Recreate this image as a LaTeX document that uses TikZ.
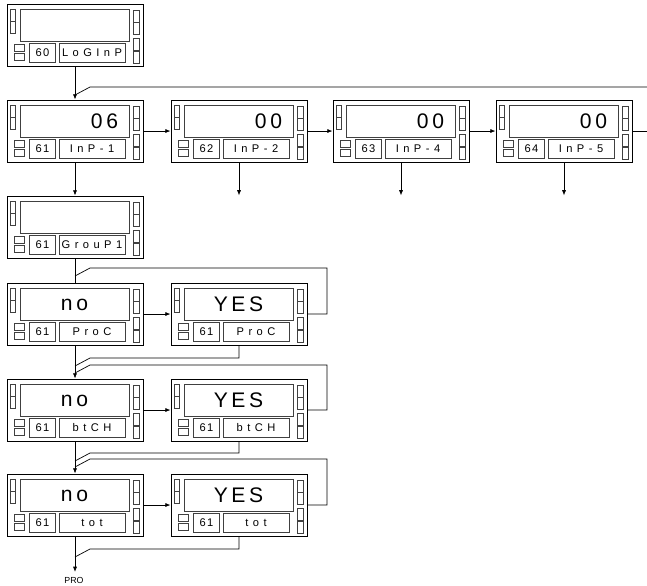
\documentclass[tikz,border=0pt]{standalone}
\usepackage{fontspec}
\setmainfont{Liberation Sans}
\newfontfamily\dispfont[LetterSpace=17]{Liberation Sans}
\newfontfamily\tagfont[LetterSpace=40]{Liberation Sans}
\newfontfamily\numfont[LetterSpace=12]{Liberation Sans}
\usetikzlibrary{arrows.meta,positioning}

\tikzset{
  frame/.style={draw=black, line width=0.8pt, minimum width=40.8mm, minimum height=18.6mm, inner sep=0pt},
  window/.style={draw=black!75, line width=0.8pt},
  led/.style={draw=black!75, line width=0.5pt},
  numbox/.style={draw=black!75, line width=0.7pt, minimum width=7.8mm, minimum height=5.7mm, inner sep=0pt, font=\numfont\fontsize{9.5}{10}\selectfont},
  tagbox/.style={draw=black!75, line width=0.7pt, minimum width=19.8mm, minimum height=5.7mm, inner sep=0pt, font=\tagfont\fontsize{9.5}{10}\selectfont},
  disptext/.style={text width=26.1mm, inner sep=0pt, font=\dispfont\fontsize{18}{20}\selectfont},
  prolabel/.style={inner xsep=0pt, inner ysep=4pt, font=\fontsize{7.5}{9}\selectfont},
  wire/.style={draw=black, line width=0.6pt},
  flow/.style={-{Latex[length=4.5pt,width=3.5pt]}},
  pics/panel/.style n args={4}{code={
    \node[frame] (-box) at (68,31) {};
    \draw[window] (13,5) rectangle (122,37);
    \node[disptext, align=#4] (-disp) at (67.5,21.5) {#3};
    \node[numbox] (-num) at (35.5,48.5) {#1};
    \node[tagbox] (-tag) at (85,48.5) {#2};
    % pilotos
    \foreach \y in {5,17} \draw[led] (3,\y) rectangle (8,\y+12);
    \foreach \y in {40,49} \draw[led] (7,\y) rectangle (17,\y+7);
    \foreach \y in {6,18,34,47} \draw[led] (126,\y) rectangle (132,\y+12);
  }}
}

\begin{document}
\begin{tikzpicture}[x=0.3mm,y=-0.3mm]
  \useasboundingbox (0,0) rectangle (647,585);

  % Login y entradas
  \pic (d60) at (7,4) {panel={60}{LoGInP}{}{center}};
  \pic (inp1) at (7,100) {panel={61}{InP-1}{06}{right}};
  \pic (inp2) at (171,100) {panel={62}{InP-2}{00}{right}};
  \pic (inp4) at (333,100) {panel={63}{InP-4}{00}{right}};
  \pic (inp5) at (496,100) {panel={64}{InP-5}{00}{right}};

  % Grupo de parametros
  \pic (grp) at (7,196) {panel={61}{GrouP1}{}{center}};
  \pic (prcn) at (7,283) {panel={61}{ProC}{no}{center}};
  \pic (prcy) at (171,283) {panel={61}{ProC}{YES}{center}};
  \pic (btcn) at (7,379) {panel={61}{btCH}{no}{center}};
  \pic (btcy) at (171,379) {panel={61}{btCH}{YES}{center}};
  \pic (totn) at (7,474) {panel={61}{tot}{no}{center}};
  \pic (toty) at (171,474) {panel={61}{tot}{YES}{center}};

  % Salida
  \node[prolabel] (pro) at (74,580) {PRO};

  % Flechas
  \foreach \from/\to in {d60-box.south/inp1-box.north, inp1-box.east/inp2-box.west,
      inp2-box.east/inp4-box.west, inp4-box.east/inp5-box.west, inp1-box.south/grp-box.north,
      prcn-box.east/prcy-box.west, prcn-box.south/btcn-box.north, btcn-box.east/btcy-box.west,
      btcn-box.south/totn-box.north, totn-box.east/toty-box.west}
    \draw[wire,flow] (\from) -- (\to);
  \draw[wire] (grp-box.south) -- (prcn-box.north);
  \draw[wire,flow] (totn-box.south) -- (totn-box.south |- pro.north);

  % Salidas hacia abajo
  \foreach \n in {inp2,inp4,inp5} {
    \path (\n-box.south) ++(0,33) coordinate (\n-out);
    \draw[wire,flow] (\n-box.south) -- (\n-out);
  }

  % Retornos
  \coordinate (next) at (647,131);
  \coordinate (back) at (647,87);
  \coordinate (h0) at (90,87);   \coordinate (j0) at (75,95);
  \coordinate (k1) at (327,268); \coordinate (h1) at (90,268); \coordinate (j1) at (75,276);
  \coordinate (h2) at (90,358);  \coordinate (j2) at (75,366);
  \coordinate (k3) at (327,365); \coordinate (h3) at (90,365); \coordinate (j3) at (75,373);
  \coordinate (h4) at (90,453);  \coordinate (j4) at (75,461);
  \coordinate (k5) at (327,459); \coordinate (h5) at (90,459); \coordinate (j5) at (75,467);
  \coordinate (h6) at (90,549);  \coordinate (j6) at (75,557);

  \draw[wire] (inp5-box.east) -- (next);
  \draw[wire] (back) -- (h0) -- (j0);
  \draw[wire] (prcy-box.east) -| (k1) -- (h1) -- (j1);
  \draw[wire] (prcy-box.south) |- (h2) -- (j2);
  \draw[wire] (btcy-box.east) -| (k3) -- (h3) -- (j3);
  \draw[wire] (btcy-box.south) |- (h4) -- (j4);
  \draw[wire] (toty-box.east) -| (k5) -- (h5) -- (j5);
  \draw[wire] (toty-box.south) |- (h6) -- (j6);
\end{tikzpicture}
\end{document}
